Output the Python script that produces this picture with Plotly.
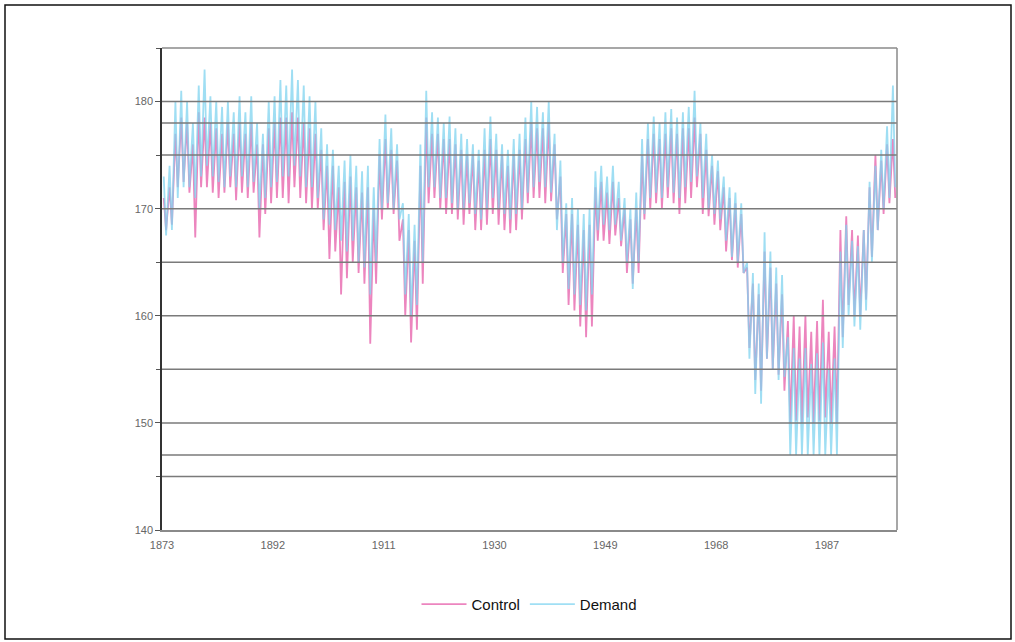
import plotly.graph_objects as go

# ---------------- data (yearly high / low) ----------------
years = list(range(1873, 1999))

control_high = [171, 172, 177, 178.5, 178, 176, 179, 178.5, 178, 177.5,
                177, 178, 177, 178, 177, 178, 176, 176, 177.5, 178,
                178.5, 178.5, 179, 178.5, 178, 177.5, 177, 175.5, 174, 174,
                172, 172.5, 173, 172, 171.5, 172, 170, 175, 176.5, 175.5,
                174.5, 169, 168, 167, 174, 178.5, 177, 177, 176.5, 176.5,
                176, 175.5, 175, 175, 174.5, 175.5, 176.5, 175.5, 175, 174,
                175, 175.5, 176.5, 178, 177.5, 177.5, 178, 176, 173, 169.5,
                169.5, 168.5, 168, 168.5, 172, 172.5, 171.5, 172.5, 171, 170,
                169, 170, 175, 176.5, 177, 176.5, 177, 177.5, 177, 177.5,
                177.5, 178.5, 177, 175.5, 174, 173.5, 172, 171, 170.5, 169.5,
                164.5, 163, 162, 166, 164.5, 163, 162, 159.5, 160, 159,
                160, 158.5, 159.5, 161.5, 158.5, 159, 168, 169.3, 168, 167.5,
                168, 172, 175, 174.5, 176, 176.5]
control_low = [168, 168.5, 172, 172.5, 171.5, 167.3, 172, 172, 171.5, 171,
               171.5, 172, 170.8, 171.5, 171, 171.5, 167.3, 169.5, 170.5, 171,
               171, 170.5, 172, 171, 170.5, 170, 170, 168, 165.3, 166,
               162, 163.5, 165, 164, 163, 157.4, 163, 169, 170, 169.5,
               167, 160, 157.5, 158.7, 163, 170.5, 171, 170, 169.5, 169.5,
               169, 168.5, 169.5, 168, 168, 168.5, 169.5, 168.5, 168, 167.7,
               168, 169, 170.5, 171, 171, 170.5, 170.7, 169, 164, 161,
               160.5, 159, 158, 159, 167, 167, 166.7, 167.5, 166.5, 164,
               163, 164, 169, 170, 170.5, 170, 171, 170.5, 169.5, 170.5,
               171, 172, 169.5, 169.3, 168.5, 168, 166, 165.2, 164.5, 164,
               157, 154, 153, 156, 155, 154.5, 153, 150, 150.2, 150,
               150.5, 150, 150.2, 150.5, 150, 150, 158, 161, 160, 160,
               161.5, 165.5, 168, 169.5, 170.5, 171]
demand_high = [173, 174, 180, 181, 180, 178, 181.5, 183, 180.5, 180,
               179.5, 180, 179, 180.5, 179, 180.5, 178, 177, 180, 180.5,
               182, 181.5, 183, 182, 181.5, 180.5, 180, 177.5, 176, 175.5,
               174, 174.5, 175, 174, 173.5, 174, 172, 176.5, 178.8, 177.5,
               176, 170.5, 169.5, 168.5, 176, 181, 179, 178.5, 178, 178.6,
               177.5, 177, 176.5, 176, 175.5, 177.5, 178.6, 177, 176, 175.5,
               176.5, 177, 178.5, 180, 179.5, 179, 180, 177, 174.5, 170.5,
               171, 170, 169.5, 170, 173.5, 174, 173, 174, 172.5, 171,
               170, 171.5, 176.5, 178, 178.6, 178, 179, 179.3, 178.5, 179,
               179.5, 181, 178, 177, 175, 174.5, 173, 172, 171.5, 170.5,
               165, 164, 163, 167.8, 166, 164.5, 163.8, 158, 157, 156,
               157, 155.5, 156.5, 157.5, 155, 156, 166, 168.5, 167, 166.5,
               168, 172.5, 174, 175.5, 177.7, 181.5]
demand_low = [167.5, 168, 171, 172, 172, 171, 173, 174, 173, 172.5,
              172, 173, 172, 173, 172, 172.5, 170, 171, 172, 172.5,
              173, 173, 174, 173, 172, 172, 171, 169, 168.5, 168,
              167, 166, 167, 165, 164.5, 162, 165, 170, 170.5, 170,
              169, 162, 160, 161, 165, 172, 172, 171, 171, 170.5,
              170, 170, 170.5, 169.5, 169, 170, 171, 170, 169.5, 169,
              169.5, 170, 171.5, 172, 172.5, 172, 171.5, 168, 165, 162.5,
              162, 161, 160.5, 162, 168, 168.5, 168, 168.5, 167, 165,
              162.5, 165, 169.5, 171, 171.5, 171, 172, 171.5, 171, 172,
              172.5, 173, 171, 170, 169.5, 169, 167, 165.5, 165, 164,
              156, 152.7, 151.8, 156, 155, 154, 154.3, 147, 147, 147,
              147, 147, 147, 147, 147, 147, 157, 160, 159, 158.7,
              160.5, 165, 168, 170, 171, 172]

ref_lines = [145, 147, 150, 155, 160, 165, 170, 175, 178, 180]
x_ticks = [1873, 1892, 1911, 1930, 1949, 1968, 1987]
y_ticks = [140, 150, 160, 170, 180]


def zigzag(highs, lows):
    xs, ys = [], []
    for yr, h, l in zip(years, highs, lows):
        xs += [yr + 0.3, yr + 0.7]
        ys += [h, l]
    return xs, ys


cx, cy = zigzag(control_high, control_low)
dx, dy = zigzag(demand_high, demand_low)

fig = go.Figure()
fig.add_trace(go.Scatter(x=cx, y=cy, mode="lines", name="Control",
                         line=dict(color="#ea78b8", width=1.8), opacity=0.9))
fig.add_trace(go.Scatter(x=dx, y=dy, mode="lines", name="Demand",
                         line=dict(color="#80d4f0", width=1.8), opacity=0.75))

shapes = []
for v in ref_lines:
    shapes.append(dict(type="line", xref="paper", yref="y", x0=0, x1=1, y0=v, y1=v,
                       line=dict(color="#7a7a7a", width=1.5), layer="above"))
# plot area border (top/right) and outer frame
shapes.append(dict(type="line", xref="paper", yref="paper", x0=0, x1=1, y0=1, y1=1,
                   line=dict(color="#8a8a8a", width=1.5)))
shapes.append(dict(type="line", xref="paper", yref="paper", x0=1, x1=1, y0=0, y1=1,
                   line=dict(color="#8a8a8a", width=1.5)))
shapes.append(dict(type="rect", xref="paper", yref="paper",
                   x0=(5 - 162) / 735, x1=(1011 - 162) / 735,
                   y0=(530 - 639) / 482, y1=(530 - 5) / 482,
                   line=dict(color="#111111", width=1.5)))

fig.update_layout(
    width=1015, height=642,
    margin=dict(l=162, r=118, t=48, b=112),
    paper_bgcolor="white", plot_bgcolor="white",
    font=dict(family="Liberation Sans, Arial, sans-serif", color="#222"),
    shapes=shapes,
    showlegend=True,
    legend=dict(orientation="h", x=0.5, xanchor="center", y=-0.12, yanchor="top",
                font=dict(size=15, color="#111"), itemwidth=45),
    xaxis=dict(range=[1873, 1999], tickmode="array", tickvals=x_ticks,
               ticktext=[str(t) for t in x_ticks], showgrid=False, zeroline=False,
               showline=True, linecolor="#8a8a8a", linewidth=1.5, ticks="",
               ticklabelstandoff=4,
               tickfont=dict(size=11, color="#666")),
    yaxis=dict(range=[140, 185], tickmode="array", tickvals=y_ticks,
               showgrid=False, zeroline=False, showline=True, linecolor="#333",
               linewidth=1.5, ticks="outside", ticklen=5, tickcolor="#555",
               tickfont=dict(size=11, color="#666"),
               minor=dict(dtick=5, ticks="outside", ticklen=4, tickcolor="#555")),
)

fig.write_html("out.html")
